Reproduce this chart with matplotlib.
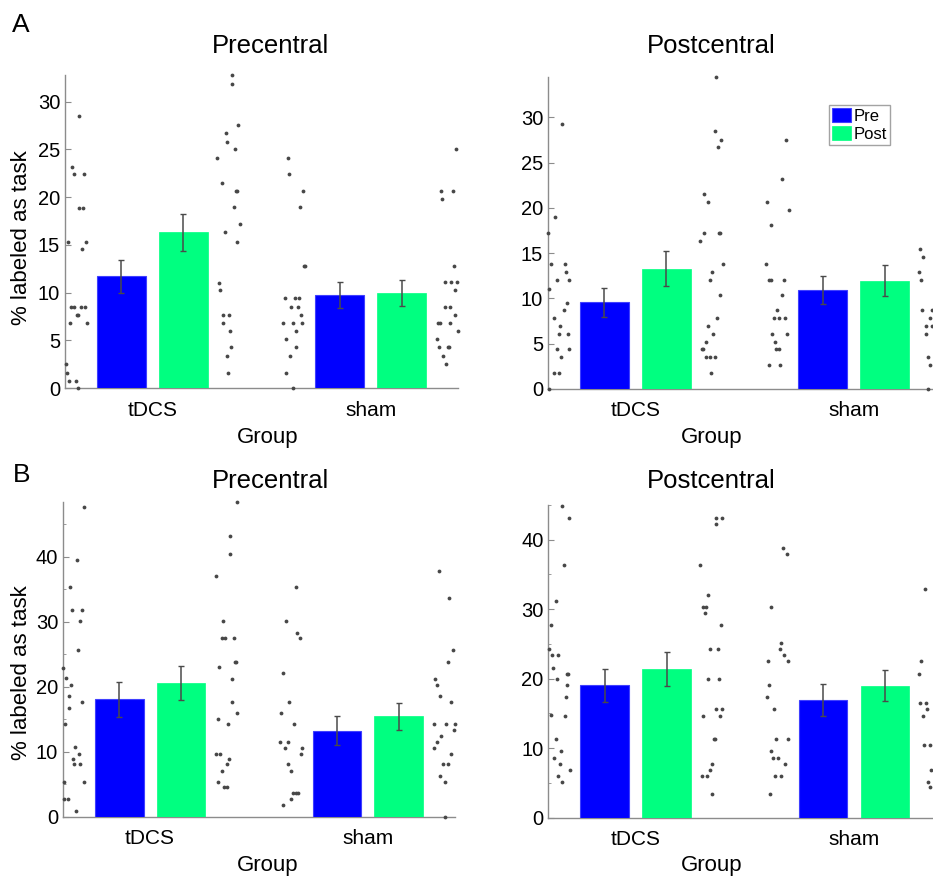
import numpy as np
import matplotlib.pyplot as plt

plt.rcParams['font.family'] = ['Liberation Sans', 'DejaVu Sans']

groups = ['tDCS', 'sham']
conds = ['Pre', 'Post']

# A, Precentral: group means and error
a1_pre_mean = [11.7, 9.76]
a1_pre_err = [1.7, 1.4]
a1_post_mean = [16.3, 9.93]
a1_post_err = [1.95, 1.35]
# A, Postcentral
a2_pre_mean = [9.57, 10.93]
a2_pre_err = [1.6, 1.55]
a2_post_mean = [13.3, 11.96]
a2_post_err = [1.9, 1.7]
# B, Precentral
b1_pre_mean = [18.1, 13.26]
b1_pre_err = [2.7, 2.2]
b1_post_mean = [20.55, 15.44]
b1_post_err = [2.6, 2.05]
# B, Postcentral
b2_pre_mean = [19.04, 17.0]
b2_pre_err = [2.4, 2.3]
b2_post_mean = [21.4, 19.0]
b2_post_err = [2.5, 2.25]

# single subjects (value, horizontal jitter from group centre)
a1_pre_tdcs_y = [28.5, 23.2, 22.4, 22.4, 18.9, 18.9, 15.35, 15.35, 14.55, 8.5, 8.5, 8.5, 8.5, 7.66, 7.66, 6.85, 6.85, 2.5, 1.6, 0.73, 0.73, 0]
a1_pre_tdcs_dx = [-0.336, -0.370, -0.359, -0.313, -0.335, -0.319, -0.385, -0.304, -0.324, -0.373, -0.359, -0.327, -0.309, -0.347, -0.342, -0.378, -0.301, -0.397, -0.393, -0.381, -0.350, -0.340]
a1_post_tdcs_y = [32.8, 31.9, 27.6, 26.7, 25.8, 25.0, 24.1, 21.5, 20.6, 20.6, 19.0, 17.2, 16.3, 15.35, 11.05, 10.3, 7.66, 7.66, 6.85, 5.98, 4.27, 3.36, 1.6]
a1_post_tdcs_dx = [0.365, 0.365, 0.393, 0.336, 0.344, 0.379, 0.298, 0.317, 0.382, 0.387, 0.373, 0.400, 0.332, 0.390, 0.304, 0.309, 0.324, 0.351, 0.324, 0.355, 0.362, 0.340, 0.347]
a1_pre_sham_y = [24.1, 22.4, 20.6, 19.0, 12.8, 12.8, 9.48, 9.48, 9.48, 8.5, 8.5, 7.66, 6.85, 6.85, 6.85, 5.98, 5.1, 4.27, 3.36, 1.6, 0]
a1_pre_sham_dx = [-0.378, -0.375, -0.310, -0.325, -0.302, -0.305, -0.394, -0.348, -0.328, -0.363, -0.335, -0.317, -0.401, -0.358, -0.313, -0.343, -0.389, -0.340, -0.371, -0.386, -0.356]
a1_post_sham_y = [25.0, 20.6, 20.6, 19.8, 12.8, 11.1, 11.1, 11.1, 10.3, 8.53, 8.53, 7.66, 6.85, 6.85, 6.85, 5.98, 5.1, 4.27, 4.27, 4.27, 3.36, 2.5]
a1_post_sham_dx = [0.392, 0.324, 0.377, 0.326, 0.381, 0.339, 0.369, 0.395, 0.384, 0.339, 0.365, 0.384, 0.308, 0.316, 0.362, 0.400, 0.303, 0.311, 0.354, 0.359, 0.331, 0.346]

a2_pre_tdcs_y = [29.25, 18.95, 17.25, 13.76, 13.76, 12.88, 12.03, 12.03, 11.1, 9.53, 8.72, 7.8, 6.95, 6.07, 6.07, 4.38, 4.38, 3.5, 1.73, 1.73, 0]
a2_pre_tdcs_dx = [-0.335, -0.366, -0.400, -0.384, -0.320, -0.317, -0.358, -0.305, -0.394, -0.313, -0.328, -0.371, -0.346, -0.348, -0.310, -0.358, -0.302, -0.340, -0.374, -0.351, -0.397]
a2_post_tdcs_y = [34.5, 28.5, 27.55, 26.7, 21.5, 20.7, 17.2, 17.2, 17.2, 16.3, 13.76, 12.88, 12.03, 10.4, 7.8, 6.95, 6.07, 5.2, 4.38, 4.38, 3.5, 3.5, 3.5, 1.73]
a2_post_tdcs_dx = [0.371, 0.363, 0.394, 0.378, 0.316, 0.335, 0.313, 0.381, 0.389, 0.297, 0.400, 0.351, 0.343, 0.389, 0.374, 0.331, 0.354, 0.324, 0.305, 0.310, 0.325, 0.340, 0.363, 0.346]
a2_pre_sham_y = [27.55, 23.25, 20.7, 19.76, 18.1, 13.76, 12.03, 12.03, 12.03, 10.4, 8.72, 7.8, 7.8, 7.8, 6.07, 6.07, 5.2, 4.38, 4.38, 2.65, 2.65]
a2_pre_sham_dx = [-0.310, -0.326, -0.395, -0.298, -0.378, -0.400, -0.390, -0.379, -0.321, -0.329, -0.349, -0.367, -0.341, -0.313, -0.372, -0.306, -0.362, -0.356, -0.344, -0.387, -0.336]
a2_post_sham_y = [15.5, 14.6, 12.88, 12.03, 8.72, 8.72, 7.8, 6.95, 6.95, 6.07, 3.5, 2.65, 0]
a2_post_sham_dx = [0.304, 0.319, 0.300, 0.309, 0.315, 0.358, 0.350, 0.332, 0.361, 0.330, 0.342, 0.350, 0.340]

b1_pre_tdcs_y = [47.7, 39.6, 35.3, 31.9, 31.9, 30.1, 25.7, 22.9, 21.3, 20.3, 18.6, 17.7, 16.8, 14.3, 10.7, 9.7, 8.9, 8.06, 8.06, 5.35, 5.35, 2.66, 2.66, 0.87]
b1_pre_tdcs_dx = [-0.305, -0.335, -0.366, -0.358, -0.313, -0.320, -0.333, -0.400, -0.386, -0.362, -0.374, -0.313, -0.371, -0.389, -0.343, -0.325, -0.354, -0.348, -0.324, -0.397, -0.302, -0.394, -0.377, -0.339]
b1_post_tdcs_y = [48.5, 43.2, 40.5, 37.1, 30.1, 27.5, 27.5, 27.5, 23.85, 23.85, 23.0, 21.2, 17.7, 16.0, 15.0, 14.2, 9.7, 9.7, 8.9, 8.06, 7.1, 5.35, 4.5, 4.5]
b1_post_tdcs_dx = [0.397, 0.366, 0.369, 0.301, 0.335, 0.328, 0.346, 0.386, 0.389, 0.394, 0.317, 0.378, 0.374, 0.401, 0.313, 0.358, 0.302, 0.320, 0.362, 0.351, 0.328, 0.310, 0.340, 0.351]
b1_pre_sham_y = [35.3, 30.1, 28.3, 27.5, 22.1, 17.7, 16.0, 14.2, 11.5, 11.5, 10.6, 10.6, 9.7, 8.06, 7.1, 3.6, 3.6, 3.6, 2.66, 1.8]
b1_pre_sham_dx = [-0.331, -0.377, -0.326, -0.311, -0.392, -0.362, -0.397, -0.339, -0.404, -0.366, -0.381, -0.303, -0.305, -0.369, -0.351, -0.342, -0.328, -0.319, -0.354, -0.388]
b1_post_sham_y = [37.9, 33.6, 25.6, 23.85, 21.2, 20.3, 18.6, 17.7, 14.2, 14.2, 14.2, 13.3, 12.4, 11.5, 10.6, 9.7, 8.06, 8.06, 6.2, 5.3, 0]
b1_post_sham_dx = [0.325, 0.374, 0.390, 0.368, 0.310, 0.319, 0.333, 0.381, 0.305, 0.360, 0.401, 0.397, 0.337, 0.316, 0.302, 0.383, 0.343, 0.368, 0.330, 0.352, 0.356]

b2_pre_tdcs_y = [44.9, 43.2, 36.3, 31.2, 27.7, 24.25, 23.4, 23.4, 21.6, 20.75, 20.75, 19.9, 19.1, 17.3, 14.8, 14.7, 11.3, 9.55, 8.6, 7.7, 6.9, 6.07, 5.15]
b2_pre_tdcs_dx = [-0.335, -0.305, -0.328, -0.363, -0.386, -0.397, -0.381, -0.354, -0.377, -0.316, -0.308, -0.358, -0.313, -0.320, -0.389, -0.325, -0.366, -0.343, -0.374, -0.348, -0.301, -0.354, -0.339]
b2_post_tdcs_y = [43.2, 43.2, 42.3, 36.3, 32.1, 30.3, 30.3, 29.5, 27.7, 24.25, 24.25, 19.9, 19.9, 15.6, 15.6, 14.7, 14.7, 11.3, 11.3, 7.7, 6.9, 6.07, 6.07, 3.4]
b2_post_tdcs_dx = [0.366, 0.397, 0.369, 0.297, 0.333, 0.310, 0.320, 0.317, 0.389, 0.340, 0.378, 0.333, 0.381, 0.369, 0.397, 0.310, 0.386, 0.358, 0.362, 0.351, 0.340, 0.302, 0.328, 0.348]
b2_pre_sham_y = [38.8, 38.0, 30.3, 25.1, 24.25, 23.4, 22.6, 22.6, 19.1, 17.3, 15.6, 11.3, 11.3, 9.55, 8.6, 8.6, 7.7, 6.07, 6.07, 3.4]
b2_pre_sham_dx = [-0.326, -0.309, -0.378, -0.332, -0.341, -0.321, -0.393, -0.301, -0.390, -0.400, -0.367, -0.355, -0.303, -0.379, -0.370, -0.349, -0.317, -0.362, -0.336, -0.385]
b2_post_sham_y = [32.9, 22.6, 20.75, 16.5, 16.5, 15.6, 14.7, 10.4, 10.4, 6.9, 5.15, 4.35]
b2_post_sham_dx = [0.324, 0.308, 0.300, 0.304, 0.330, 0.335, 0.315, 0.319, 0.346, 0.355, 0.340, 0.350]

BLUE = '#0000ff'
GREEN = '#00ff80'
GREY = '#8c8c8c'
W = 933.0
H = 884.0

fig = plt.figure(figsize=(9.33, 8.84), dpi=100)


def panel(rect, pre_m, pre_e, post_m, post_e, dots, major, minor=None):
    ax = fig.add_axes(rect)
    x = np.arange(1, len(groups) + 1)
    b1 = ax.bar(x - 0.142, pre_m, 0.224, color=BLUE, edgecolor='#4040ff', lw=0.8, zorder=3)
    b2 = ax.bar(x + 0.142, post_m, 0.224, color=GREEN, edgecolor=GREEN, lw=0.5, zorder=3)
    for xx, m, e in [(x - 0.142, pre_m, pre_e), (x + 0.142, post_m, post_e)]:
        ax.errorbar(xx, m, yerr=e, fmt='none', ecolor='#4a4a4a', elinewidth=1.1,
                    capsize=2.5, capthick=1.0, zorder=4)
    top = 0
    for gi, ys, dxs in dots:
        ax.scatter(x[gi] + np.array(dxs), ys, s=7.5, c='#474747', lw=0, zorder=5, clip_on=False)
        top = max(top, max(ys))
    ax.set_xlim(0.6, 2.4)
    ax.set_ylim(0, top)
    ax.set_xticks(x)
    ax.set_xticklabels(groups)
    ax.set_yticks(major)
    if minor is not None:
        ax.set_yticks(minor, minor=True)
    for s in ['top', 'right']:
        ax.spines[s].set_visible(False)
    for s in ['left', 'bottom']:
        ax.spines[s].set_color(GREY)
        ax.spines[s].set_linewidth(1.0)
    ax.tick_params(axis='y', which='both', direction='in', color=GREY, labelsize=14.5, pad=3.5)
    ax.tick_params(axis='y', which='major', length=4)
    ax.tick_params(axis='y', which='minor', length=2.5)
    ax.tick_params(axis='x', length=0, labelsize=15, pad=9)
    return ax, b1, b2


axA1, h1, h2 = panel([65 / W, 1 - 388 / H, 393 / W, 313 / H],
                     a1_pre_mean, a1_pre_err, a1_post_mean, a1_post_err,
                     [(0, a1_pre_tdcs_y, a1_pre_tdcs_dx), (0, a1_post_tdcs_y, a1_post_tdcs_dx),
                      (1, a1_pre_sham_y, a1_pre_sham_dx), (1, a1_post_sham_y, a1_post_sham_dx)],
                     np.arange(0, 31, 5))
axA2, _, _ = panel([548 / W, 1 - 389 / H, 393 / W, 312.3 / H],
                   a2_pre_mean, a2_pre_err, a2_post_mean, a2_post_err,
                   [(0, a2_pre_tdcs_y, a2_pre_tdcs_dx), (0, a2_post_tdcs_y, a2_post_tdcs_dx),
                    (1, a2_pre_sham_y, a2_pre_sham_dx), (1, a2_post_sham_y, a2_post_sham_dx)],
                   np.arange(0, 31, 5))
axB1, _, _ = panel([63 / W, 1 - 816.7 / H, 392 / W, 315 / H],
                   b1_pre_mean, b1_pre_err, b1_post_mean, b1_post_err,
                   [(0, b1_pre_tdcs_y, b1_pre_tdcs_dx), (0, b1_post_tdcs_y, b1_post_tdcs_dx),
                    (1, b1_pre_sham_y, b1_pre_sham_dx), (1, b1_post_sham_y, b1_post_sham_dx)],
                   np.arange(0, 41, 10), np.arange(5, 50, 10))
axB2, _, _ = panel([548.3 / W, 1 - 817.7 / H, 393 / W, 312.7 / H],
                   b2_pre_mean, b2_pre_err, b2_post_mean, b2_post_err,
                   [(0, b2_pre_tdcs_y, b2_pre_tdcs_dx), (0, b2_post_tdcs_y, b2_post_tdcs_dx),
                    (1, b2_pre_sham_y, b2_pre_sham_dx), (1, b2_post_sham_y, b2_post_sham_dx)],
                   np.arange(0, 41, 10), np.arange(5, 50, 10))

# titles, labels, panel letters
for xc, yb, t in [(271, 53, 'Precentral'), (711, 53, 'Postcentral'),
                  (271, 488, 'Precentral'), (711, 488, 'Postcentral')]:
    fig.text(xc / W, 1 - yb / H, t, ha='center', va='baseline', fontsize=18.5)
for xc, yb in [(268, 443), (712, 443), (268, 871), (712, 871)]:
    fig.text(xc / W, 1 - yb / H, 'Group', ha='center', va='baseline', fontsize=16)
for yc in [238, 673]:
    fig.text(22 / W, 1 - yc / H, '% labeled as task', ha='center', va='center',
             rotation=90, fontsize=16)
fig.text(12 / W, 1 - 32 / H, 'A', ha='left', va='baseline', fontsize=19)
fig.text(13 / W, 1 - 482 / H, 'B', ha='left', va='baseline', fontsize=19)

leg = fig.legend([h1, h2], conds, loc='upper left', bbox_to_anchor=(829 / W, 1 - 105 / H),
                 fontsize=12, frameon=True, fancybox=False, edgecolor=GREY,
                 borderpad=0.2, handlelength=1.1, handleheight=0.85, handletextpad=0.15,
                 labelspacing=0.15, borderaxespad=0)
leg.get_frame().set_linewidth(1.0)

fig.savefig('out.png', dpi=100)
